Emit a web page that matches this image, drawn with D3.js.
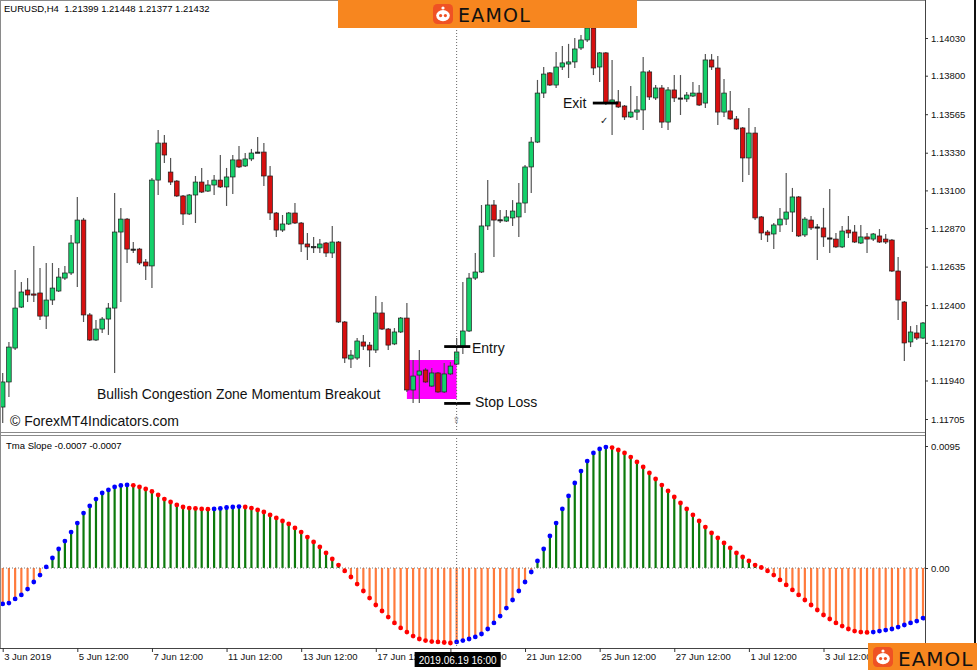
<!DOCTYPE html>
<html><head><meta charset="utf-8">
<script src="https://cdn.jsdelivr.net/npm/d3@7"></script>
<style>body{margin:0;background:#fff}svg{display:block}</style>
</head><body>
<script>
// ---------- DATA ----------
const opens=[1.11778,1.11931,1.12138,1.12388,1.12492,1.12468,1.12474,1.12333,1.12431,1.12486,1.12565,1.12596,1.12779,1.12919,1.12340,1.12187,1.12254,1.12315,1.12382,1.12846,1.12925,1.12742,1.12742,1.12663,1.12639,1.13163,1.13389,1.13212,1.13157,1.13066,1.12956,1.13072,1.13151,1.13096,1.13133,1.13163,1.13121,1.13182,1.13286,1.13249,1.13292,1.13334,1.13334,1.13188,1.12962,1.12858,1.12895,1.12962,1.12901,1.12773,1.12755,1.12749,1.12779,1.12718,1.12785,1.12297,1.12071,1.12077,1.12175,1.12156,1.12126,1.12352,1.12254,1.12163,1.12236,1.12321,1.11882,1.11973,1.12004,1.11906,1.11986,1.11870,1.11980,1.12040,1.12144,1.12242,1.12565,1.12602,1.12883,1.13011,1.12919,1.12913,1.12932,1.12938,1.13023,1.13243,1.13395,1.13694,1.13817,1.13743,1.13853,1.13871,1.13884,1.13969,1.14018,1.14091,1.13853,1.13939,1.13633,1.13640,1.13615,1.13548,1.13578,1.13591,1.13823,1.13664,1.13725,1.13517,1.13713,1.13664,1.13658,1.13676,1.13694,1.13633,1.13896,1.13847,1.13578,1.13585,1.13536,1.13481,1.13298,1.13450,1.12938,1.12846,1.12834,1.12889,1.12925,1.12968,1.13060,1.12828,1.12919,1.12877,1.12871,1.12810,1.12803,1.12755,1.12858,1.12846,1.12779,1.12816,1.12803,1.12822,1.12803,1.12797,1.12608,1.12419,1.12175,1.12230,1.12199];
const highs=[1.11986,1.12175,1.12614,1.12541,1.12565,1.12761,1.12626,1.12657,1.12657,1.12626,1.12639,1.12828,1.13060,1.12932,1.12352,1.12309,1.12327,1.12413,1.13084,1.12993,1.12932,1.12785,1.12749,1.12681,1.13176,1.13469,1.13438,1.13298,1.13163,1.13072,1.13078,1.13188,1.13237,1.13163,1.13194,1.13316,1.13237,1.13316,1.13371,1.13328,1.13353,1.13426,1.13389,1.13249,1.12968,1.12950,1.12968,1.13023,1.12907,1.12840,1.12816,1.12803,1.12785,1.12883,1.12791,1.12303,1.12126,1.12199,1.12218,1.12175,1.12455,1.12419,1.12260,1.12260,1.12327,1.12413,1.12065,1.12126,1.12016,1.12016,1.11992,1.12047,1.12053,1.12199,1.12541,1.12596,1.12718,1.13011,1.13163,1.13041,1.12980,1.12980,1.13041,1.13145,1.13255,1.13426,1.13774,1.13853,1.13823,1.13945,1.13981,1.13994,1.14030,1.14048,1.14140,1.14140,1.13945,1.13945,1.13896,1.13713,1.13621,1.13737,1.13676,1.13914,1.13835,1.13743,1.13743,1.13731,1.13804,1.13804,1.13700,1.13762,1.13743,1.13932,1.13932,1.13920,1.13780,1.13707,1.13554,1.13487,1.13603,1.13487,1.12944,1.12858,1.12901,1.12993,1.13206,1.13115,1.13066,1.12938,1.12944,1.12895,1.12993,1.13109,1.12840,1.12883,1.12944,1.12889,1.12889,1.12840,1.12840,1.12864,1.12834,1.12803,1.12694,1.12425,1.12272,1.12279,1.12297];
const lows=[1.11680,1.11839,1.12126,1.12382,1.12419,1.12419,1.12309,1.12254,1.12401,1.12480,1.12553,1.12584,1.12510,1.12297,1.12181,1.12181,1.12230,1.12218,1.11986,1.12419,1.12657,1.12718,1.12645,1.12553,1.12504,1.13072,1.13267,1.13133,1.13060,1.12889,1.12950,1.12901,1.13084,1.13090,1.13072,1.13115,1.13005,1.13078,1.13237,1.13243,1.13279,1.13328,1.13127,1.12919,1.12816,1.12846,1.12889,1.12895,1.12724,1.12675,1.12718,1.12718,1.12694,1.12687,1.12291,1.12047,1.12016,1.12065,1.12126,1.12022,1.12108,1.12248,1.12126,1.12156,1.12230,1.11870,1.11802,1.11802,1.11925,1.11900,1.11863,1.11863,1.11973,1.12034,1.12101,1.12236,1.12553,1.12596,1.12858,1.12694,1.12901,1.12907,1.12883,1.12816,1.12962,1.13084,1.13389,1.13664,1.13737,1.13725,1.13835,1.13786,1.13847,1.13957,1.14006,1.13804,1.13762,1.13621,1.13438,1.13603,1.13530,1.13542,1.13530,1.13469,1.13652,1.13652,1.13481,1.13469,1.13640,1.13560,1.13640,1.13670,1.13615,1.13603,1.13835,1.13499,1.13548,1.13530,1.13469,1.13151,1.13194,1.12919,1.12797,1.12785,1.12742,1.12846,1.12889,1.12846,1.12816,1.12816,1.12858,1.12675,1.12755,1.12718,1.12749,1.12749,1.12810,1.12779,1.12773,1.12718,1.12791,1.12779,1.12773,1.12602,1.12309,1.12059,1.12144,1.12187,1.12193];
const closes=[1.11931,1.12144,1.12382,1.12480,1.12462,1.12462,1.12333,1.12431,1.12504,1.12571,1.12596,1.12779,1.12919,1.12340,1.12187,1.12254,1.12315,1.12382,1.12846,1.12925,1.12742,1.12740,1.12657,1.12639,1.13163,1.13389,1.13316,1.13151,1.13066,1.12956,1.13072,1.13151,1.13090,1.13133,1.13163,1.13121,1.13182,1.13286,1.13243,1.13292,1.13328,1.13332,1.13188,1.12962,1.12858,1.12895,1.12962,1.12901,1.12773,1.12755,1.12757,1.12773,1.12718,1.12785,1.12297,1.12077,1.12095,1.12181,1.12150,1.12126,1.12352,1.12254,1.12156,1.12236,1.12321,1.11882,1.11967,1.11998,1.11931,1.11986,1.11870,1.11980,1.12028,1.12114,1.12242,1.12565,1.12602,1.12883,1.13011,1.12919,1.12921,1.12938,1.12974,1.13023,1.13243,1.13395,1.13694,1.13810,1.13743,1.13853,1.13878,1.13884,1.13963,1.14018,1.14091,1.13847,1.13939,1.13633,1.13652,1.13609,1.13548,1.13578,1.13591,1.13823,1.13670,1.13725,1.13517,1.13713,1.13664,1.13662,1.13682,1.13694,1.13621,1.13896,1.13853,1.13578,1.13694,1.13536,1.13475,1.13298,1.13450,1.12932,1.12840,1.12828,1.12889,1.12925,1.12968,1.13060,1.12822,1.12925,1.12871,1.12875,1.12816,1.12808,1.12755,1.12852,1.12840,1.12785,1.12816,1.12803,1.12834,1.12785,1.12785,1.12608,1.12431,1.12169,1.12236,1.12199,1.12291];
const slope=[-0.00280,-0.00273,-0.00241,-0.00210,-0.00164,-0.00109,-0.00055,0.00008,0.00078,0.00148,0.00210,0.00280,0.00350,0.00428,0.00483,0.00537,0.00584,0.00608,0.00631,0.00643,0.00647,0.00644,0.00631,0.00615,0.00596,0.00569,0.00537,0.00514,0.00491,0.00475,0.00467,0.00464,0.00460,0.00458,0.00460,0.00464,0.00471,0.00475,0.00478,0.00475,0.00467,0.00452,0.00436,0.00413,0.00390,0.00366,0.00343,0.00312,0.00280,0.00241,0.00203,0.00164,0.00117,0.00070,0.00023,-0.00023,-0.00070,-0.00125,-0.00179,-0.00234,-0.00288,-0.00335,-0.00382,-0.00428,-0.00467,-0.00499,-0.00530,-0.00553,-0.00565,-0.00573,-0.00576,-0.00580,-0.00584,-0.00576,-0.00565,-0.00553,-0.00537,-0.00514,-0.00475,-0.00428,-0.00374,-0.00312,-0.00249,-0.00179,-0.00109,-0.00031,0.00055,0.00148,0.00249,0.00350,0.00460,0.00561,0.00662,0.00755,0.00833,0.00896,0.00927,0.00942,0.00938,0.00919,0.00896,0.00864,0.00826,0.00787,0.00740,0.00693,0.00646,0.00600,0.00553,0.00506,0.00460,0.00413,0.00366,0.00319,0.00273,0.00234,0.00195,0.00156,0.00117,0.00086,0.00055,0.00023,0.00004,-0.00023,-0.00055,-0.00093,-0.00132,-0.00171,-0.00210,-0.00249,-0.00288,-0.00327,-0.00366,-0.00397,-0.00428,-0.00452,-0.00475,-0.00491,-0.00499,-0.00502,-0.00499,-0.00491,-0.00483,-0.00475,-0.00460,-0.00444,-0.00428,-0.00413,-0.00390];
const priceTicks=[1.14030,1.13800,1.13565,1.13330,1.13100,1.12870,1.12635,1.12400,1.12170,1.11940,1.11705];
const slopeTicks=[0.0095,0,-0.006];
const slopeTickLabels=["0.0095","0.00","-0.006"];
const timeTickIdx=[0,12,24,36,48,60,72,84,96,108,120,132];
const timeTickLabels=["3 Jun 2019","5 Jun 12:00","7 Jun 12:00","11 Jun 12:00","13 Jun 12:00","17 Jun 12:00","19 Jun 12:00","21 Jun 12:00","25 Jun 12:00","27 Jun 12:00","1 Jul 12:00","3 Jul 12:00"];
const cursorIdx=73;
const boxRange={i0:65,i1:73,top:1.12065,bottom:1.11827};
const entryPrice=1.12147, stopPrice=1.11800, exitPrice=1.13633;

// ---------- LAYOUT ----------
const W=977,H=670, axisX=925;
const F="'Liberation Sans',Arial,sans-serif";
const N=opens.length;
const svg=d3.select('body').append('svg').attr('width',W).attr('height',H);
svg.append('rect').attr('width',W).attr('height',H).attr('fill','#fff');

const x=d3.scaleLinear().domain([0,N-1]).range([2.7,923]);
const yP=d3.scaleLinear().domain([1.11705,1.14030]).range([419,38]);
const yS=d3.scaleLinear().domain([0,0.0095]).range([568,446]);

const defs=svg.append('defs');
defs.append('clipPath').attr('id','cm').append('rect').attr('x',0).attr('y',0).attr('width',axisX).attr('height',432);
defs.append('clipPath').attr('id','ci').append('rect').attr('x',0).attr('y',437).attr('width',axisX).attr('height',211);

const main=svg.append('g').attr('clip-path','url(#cm)');
// congestion box
main.append('rect')
 .attr('x',x(boxRange.i0)).attr('width',x(boxRange.i1)-x(boxRange.i0))
 .attr('y',yP(boxRange.top)).attr('height',yP(boxRange.bottom)-yP(boxRange.top))
 .attr('fill','#ff00ff');

const data=d3.range(N).map(i=>({i,o:opens[i],h:highs[i],l:lows[i],c:closes[i]}));
main.selectAll('line.wick').data(data).join('line').attr('class','wick')
 .attr('x1',d=>x(d.i)).attr('x2',d=>x(d.i))
 .attr('y1',d=>yP(d.h)).attr('y2',d=>yP(d.l))
 .attr('stroke','#555').attr('stroke-width',1.2);
main.selectAll('rect.body').data(data).join('rect').attr('class','body')
 .attr('x',d=>x(d.i)-2.3).attr('width',4.6)
 .attr('y',d=>yP(Math.max(d.o,d.c)))
 .attr('height',d=>Math.max(1.2,Math.abs(yP(d.o)-yP(d.c))))
 .attr('fill',d=>Math.abs(d.c-d.o)<0.00004?'#222':(d.c>d.o?'#14d06a':'#d70f0f'))
 .attr('stroke','#1c1c1c').attr('stroke-width',0.7);

// annotations
const ann=svg.append('g');
ann.append('line').attr('x1',x(71)).attr('x2',x(75.2)).attr('y1',yP(entryPrice)).attr('y2',yP(entryPrice)).attr('stroke','#000').attr('stroke-width',2.8);
ann.append('line').attr('x1',x(71)).attr('x2',x(75.2)).attr('y1',yP(stopPrice)).attr('y2',yP(stopPrice)).attr('stroke','#000').attr('stroke-width',2.8);
ann.append('line').attr('x1',x(94.9)).attr('x2',x(99)).attr('y1',yP(exitPrice)).attr('y2',yP(exitPrice)).attr('stroke','#000').attr('stroke-width',2.8);
ann.append('text').attr('x',472).attr('y',353).text('Entry').attr('font-family',F).attr('font-size',14).attr('fill','#111');
ann.append('text').attr('x',475).attr('y',407).text('Stop Loss').attr('font-family',F).attr('font-size',14).attr('fill','#111');
ann.append('text').attr('x',563).attr('y',108).text('Exit').attr('font-family',F).attr('font-size',14).attr('fill','#111');
ann.append('text').attr('x',600).attr('y',124).text('✓').attr('font-family','DejaVu Sans').attr('font-size',10).attr('fill','#222');
ann.append('text').attr('x',97).attr('y',399).text('Bullish Congestion Zone Momentum Breakout').attr('font-family',F).attr('font-size',13.9).attr('fill','#111');
ann.append('text').attr('x',10).attr('y',426).text('© ForexMT4Indicators.com').attr('font-family',F).attr('font-size',14).attr('fill','#111');
svg.append('text').attr('x',4).attr('y',12).text('EURUSD,H4  1.21399 1.21448 1.21377 1.21432').attr('font-family',F).attr('font-size',9.5).attr('fill','#000').attr('xml:space','preserve');

// ---------- INDICATOR ----------
const ind=svg.append('g').attr('clip-path','url(#ci)');
ind.selectAll('line.bar').data(slope).join('line').attr('class','bar')
 .attr('x1',(d,i)=>x(i)).attr('x2',(d,i)=>x(i))
 .attr('y1',yS(0)).attr('y2',d=>yS(d))
 .attr('stroke',d=>d>=0?'#0c7a0c':'#ff7a3c').attr('stroke-width',2.2);
ind.append('line').attr('x1',0).attr('x2',axisX).attr('y1',yS(0)).attr('y2',yS(0))
 .attr('stroke','#777').attr('stroke-dasharray','1,2');
ind.selectAll('circle.dot').data(slope).join('circle').attr('class','dot')
 .attr('cx',(d,i)=>x(i)).attr('cy',d=>yS(d)).attr('r',2.4)
 .attr('fill',(d,i)=>(i===0||d>=slope[i-1])?'#0000ff':'#ff0000');
svg.append('text').attr('x',6).attr('y',449).text('Tma Slope -0.0007 -0.0007').attr('font-family',F).attr('font-size',9.5).attr('fill','#000');

// crosshair
svg.append('line').attr('x1',x(cursorIdx)).attr('x2',x(cursorIdx)).attr('y1',0).attr('y2',648)
 .attr('stroke','#666').attr('stroke-dasharray','1,2');
svg.append('text').attr('x',x(cursorIdx)).attr('y',423).attr('text-anchor','middle').text('⇧').attr('font-family','DejaVu Sans').attr('font-size',9).attr('fill','#777');

// ---------- FRAME ----------
const fr=svg.append('g').attr('fill','none');
fr.append('line').attr('x1',0.5).attr('x2',0.5).attr('y1',0).attr('y2',648).attr('stroke','#8a8a8a');
fr.append('line').attr('x1',0).attr('x2',axisX).attr('y1',0.5).attr('y2',0.5).attr('stroke','#8a8a8a');
fr.append('line').attr('x1',0).attr('x2',axisX).attr('y1',432.5).attr('y2',432.5).attr('stroke','#8a8a8a').attr('stroke-width',1.2);
fr.append('line').attr('x1',0).attr('x2',axisX).attr('y1',435.5).attr('y2',435.5).attr('stroke','#8a8a8a').attr('stroke-width',1.2);
fr.append('line').attr('x1',0).attr('x2',axisX).attr('y1',648.5).attr('y2',648.5).attr('stroke','#444');
fr.append('line').attr('x1',axisX+0.5).attr('x2',axisX+0.5).attr('y1',0).attr('y2',649).attr('stroke','#444');
fr.append('line').attr('x1',975).attr('x2',975).attr('y1',0).attr('y2',643).attr('stroke','#111').attr('stroke-width',2);

// ---------- AXES ----------
function styleAxis(g){
  g.select('.domain').remove();
  g.selectAll('.tick line').attr('stroke','#333');
  g.selectAll('.tick text').attr('font-family',F).attr('font-size',9.5).attr('fill','#111');
}
svg.append('g').attr('transform',`translate(${axisX},0)`)
 .call(d3.axisRight(yP).tickValues(priceTicks).tickSize(3).tickPadding(3).tickFormat(d3.format('.5f')))
 .call(styleAxis);
svg.append('g').attr('transform',`translate(${axisX},0)`)
 .call(d3.axisRight(yS).tickValues(slopeTicks).tickSize(3).tickPadding(3).tickFormat((d,i)=>slopeTickLabels[i]))
 .call(styleAxis);
const xa=svg.append('g').attr('transform','translate(0,648)')
 .call(d3.axisBottom(x).tickValues(timeTickIdx).tickSize(4).tickFormat((d,i)=>timeTickLabels[i]))
 .call(styleAxis);
xa.selectAll('.tick text').attr('text-anchor','start').attr('dx',1).attr('dy','0.5em');

// cursor date label
const cx=x(cursorIdx);
svg.append('rect').attr('x',cx-42).attr('y',652).attr('width',86).attr('height',15).attr('fill','#000');
svg.append('text').attr('x',cx+1).attr('y',663.5).attr('text-anchor','middle').text('2019.06.19 16:00')
 .attr('font-family',F).attr('font-size',10).attr('fill','#fff');

// ---------- LOGOS ----------
function icon(g,x0,y0,s){
  g.append('rect').attr('x',x0).attr('y',y0).attr('width',s).attr('height',s).attr('rx',s*0.22).attr('fill','#ef5224');
  g.append('circle').attr('cx',x0+s/2).attr('cy',y0+s*0.2).attr('r',s*0.08).attr('fill','#fff');
  g.append('ellipse').attr('cx',x0+s/2).attr('cy',y0+s*0.58).attr('rx',s*0.34).attr('ry',s*0.28).attr('fill','#fff');
  g.append('circle').attr('cx',x0+s*0.38).attr('cy',y0+s*0.58).attr('r',s*0.08).attr('fill','#ef5224');
  g.append('circle').attr('cx',x0+s*0.62).attr('cy',y0+s*0.58).attr('r',s*0.08).attr('fill','#ef5224');
}
const lg=svg.append('g');
lg.append('rect').attr('x',338).attr('y',0).attr('width',299).attr('height',28).attr('fill','#f7861f');
icon(lg,433,4,20);
lg.append('text').attr('x',458).attr('y',22).text('EAMOL').attr('font-family',"'DejaVu Sans',sans-serif").attr('font-size',19).attr('letter-spacing',1.2).attr('fill','#111');
const lg2=svg.append('g');
lg2.append('rect').attr('x',868).attr('y',643).attr('width',109).attr('height',27).attr('fill','#f7861f');
icon(lg2,873,647,20);
lg2.append('text').attr('x',898).attr('y',666).text('EAMOL').attr('font-family',"'DejaVu Sans',sans-serif").attr('font-size',20).attr('letter-spacing',1).attr('fill','#111');
</script>
</body></html>
